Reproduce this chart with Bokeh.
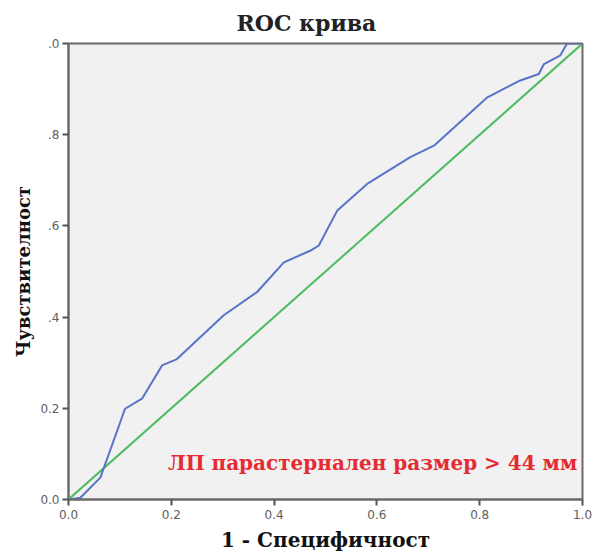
from bokeh.plotting import figure
from bokeh.models import Label, Range1d, FixedTicker
from bokeh.embed import file_html
from bokeh.resources import INLINE

# ROC curve points
fpr = [0.0, 0.023, 0.062, 0.11, 0.143, 0.182, 0.211, 0.302, 0.367, 0.419, 0.471,
       0.487, 0.523, 0.581, 0.665, 0.711, 0.815, 0.879, 0.915, 0.925, 0.957, 0.97, 1.0]
tpr = [0.0, 0.004, 0.048, 0.199, 0.221, 0.294, 0.308, 0.404, 0.455, 0.52, 0.546,
       0.557, 0.634, 0.692, 0.751, 0.776, 0.882, 0.919, 0.933, 0.955, 0.974, 1.0, 1.0]
ref_x = [0.0, 1.0]
ref_y = [0.0, 1.0]

ticks = [0.0, 0.2, 0.4, 0.6, 0.8, 1.0]
x_tick_labels = ["0.0", "0.2", "0.4", "0.6", "0.8", "1.0"]
y_tick_labels = ["0.0", "0.2", ".4", ".6", ".8", ".0"]

SERIF = "DejaVu Serif"

p = figure(width=598, height=556, output_backend="svg", toolbar_location=None,
           x_range=Range1d(0, 1), y_range=Range1d(0, 1),
           min_border_left=68, min_border_right=16, min_border_top=43, min_border_bottom=57)

p.background_fill_color = "#f0f1f0"
p.border_fill_color = "white"
p.outline_line_color = "#6b6b6b"
p.outline_line_width = 2
p.grid.visible = False

p.title.text = "ROC крива"
p.title.text_font = SERIF
p.title.text_font_size = "22px"
p.title.text_font_style = "bold"
p.title.text_color = "#222222"
p.title.align = "left"
p.title.offset = 168
p.title.standoff = 12
p.title.vertical_align = "top"

for ax, labels in ((p.xaxis[0], x_tick_labels), (p.yaxis[0], y_tick_labels)):
    ax.ticker = FixedTicker(ticks=ticks)
    ax.major_label_overrides = {t: l for t, l in zip(ticks, labels)}
    ax.minor_tick_line_color = None
    ax.major_tick_out = 6
    ax.major_tick_in = 0
    ax.major_tick_line_color = "#555555"
    ax.major_tick_line_width = 2
    ax.axis_line_color = "#6b6b6b"
    ax.axis_line_width = 2
    ax.major_label_text_font = "DejaVu Sans"
    ax.major_label_text_font_size = "12px"
    ax.major_label_text_color = "#606060"
    ax.axis_label_text_font = SERIF
    ax.axis_label_text_font_style = "bold"
    ax.axis_label_text_color = "#111111"

p.xaxis.axis_label = "1 - Специфичност"
p.yaxis.axis_label = "Чувствителност"
p.xaxis.axis_label_text_font_size = "20px"
p.yaxis.axis_label_text_font_size = "18px"
p.xaxis.major_label_standoff = 4
p.yaxis.major_label_standoff = 3
p.xaxis.axis_label_standoff = 6
p.yaxis.axis_label_standoff = 3

p.line(ref_x, ref_y, line_color="#4dbb5f", line_width=2)
p.line(fpr, tpr, line_color="#5a72c8", line_width=2)

p.add_layout(Label(x=0.99, y=0.081, text="ЛП парастернален размер > 44 мм",
                   text_align="right", text_baseline="middle",
                   text_font=SERIF, text_font_size="20px",
                   text_font_style="bold", text_color="#e62a33"))

open("out.html", "w").write(file_html(p, INLINE))
